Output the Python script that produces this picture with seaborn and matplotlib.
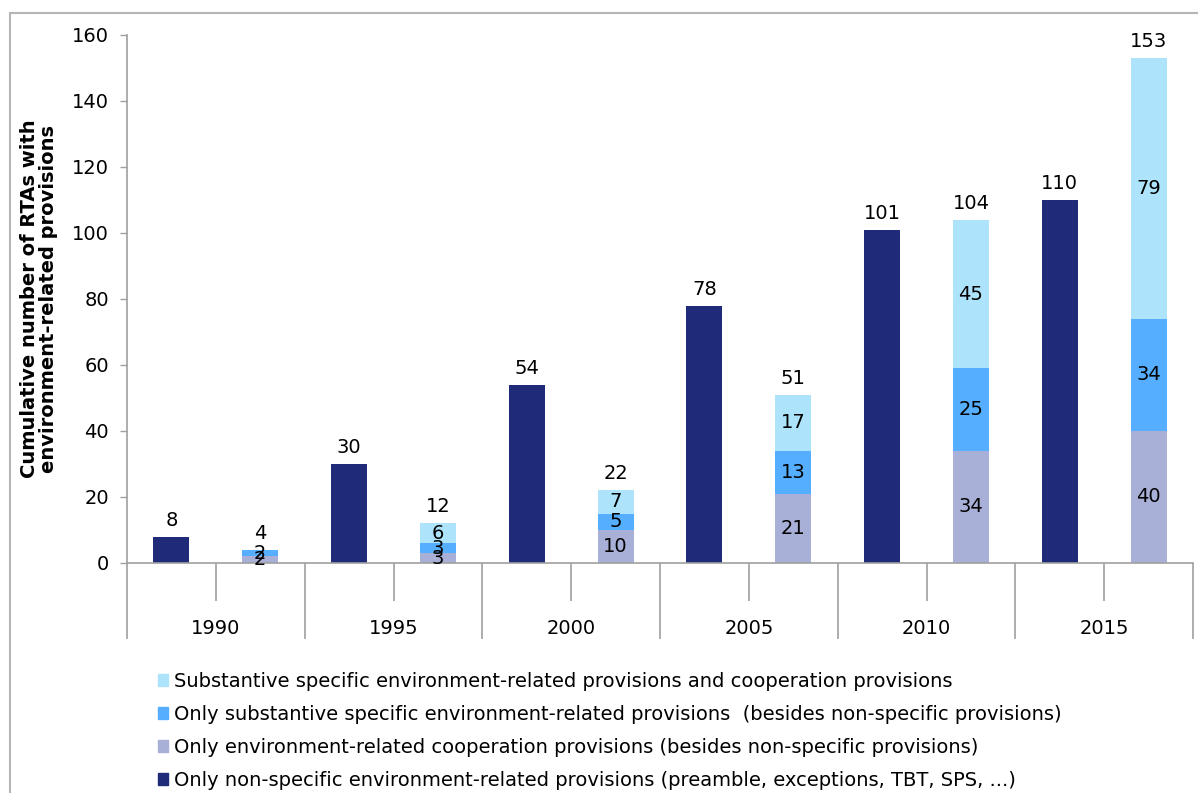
import matplotlib
matplotlib.use("Agg")
import matplotlib.pyplot as plt
import matplotlib.patches as mpatches
import seaborn as sns
import pandas as pd
import numpy as np

years = ["1990", "1995", "2000", "2005", "2010", "2015"]
non_specific = [8, 30, 54, 78, 101, 110]
cooperation_only = [2, 3, 10, 21, 34, 40]
substantive_only = [2, 3, 5, 13, 25, 34]
substantive_and_coop = [0, 6, 7, 17, 45, 79]

legend_labels = [
    "Substantive specific environment-related provisions and cooperation provisions",
    "Only substantive specific environment-related provisions  (besides non-specific provisions)",
    "Only environment-related cooperation provisions (besides non-specific provisions)",
    "Only non-specific environment-related provisions (preamble, exceptions, TBT, SPS, ...)",
]

c_dark = "#1F2A78"
c_lav = "#A9B0D8"
c_mid = "#55AEFF"
c_light = "#ADE3FB"

sns.set_theme(style="white")
plt.rcParams["font.family"] = ["DejaVu Sans"]
plt.rcParams["text.color"] = "black"
plt.rcParams["axes.labelcolor"] = "black"
plt.rcParams["xtick.color"] = "black"
plt.rcParams["ytick.color"] = "black"

FS = 14

slots = []
for y in years:
    slots += [y + "a", y + "b"]

rows = []
for i, y in enumerate(years):
    rows.append(dict(slot=y + "a", kind="dark", top=non_specific[i]))
    c1 = cooperation_only[i]
    c2 = c1 + substantive_only[i]
    c3 = c2 + substantive_and_coop[i]
    rows.append(dict(slot=y + "b", kind="light", top=c3))
    rows.append(dict(slot=y + "b", kind="mid", top=c2))
    rows.append(dict(slot=y + "b", kind="lav", top=c1))
df = pd.DataFrame(rows)

fig = plt.figure(figsize=(11.98, 7.93), dpi=100)
ax = fig.add_axes([127 / 1198, 230 / 793, (1193 - 127) / 1198, 528 / 793])

W = 0.405
for kind, col in [("dark", c_dark), ("light", c_light), ("mid", c_mid), ("lav", c_lav)]:
    sub = df[df.kind == kind]
    sns.barplot(data=sub, x="slot", y="top", order=slots, color=col, width=W,
                ax=ax, saturation=1, linewidth=0, errorbar=None)

ax.set_xlim(-0.5, 11.5)
ax.set_ylim(0, 160)
ax.set_yticks(np.arange(0, 161, 20))
ax.tick_params(axis="y", labelsize=FS, length=5, width=1, color="#A0A0A0",
               labelcolor="black", direction="out", pad=8, left=True)
for s in ["top", "right"]:
    ax.spines[s].set_visible(False)
for s in ["left", "bottom"]:
    ax.spines[s].set_color("#A0A0A0")
    ax.spines[s].set_linewidth(1.2)

# group ticks
ax.set_xticks([2 * i + 0.5 for i in range(6)])
ax.set_xticklabels(years, fontsize=FS)
ax.tick_params(axis="x", length=27, width=1.2, color="#A0A0A0", labelcolor="black",
               pad=13, bottom=True)
ax.set_xticks([2 * i - 0.5 for i in range(7)], minor=True)
ax.tick_params(axis="x", which="minor", length=55, width=1.2, color="#A0A0A0", bottom=True)
ax.set_xlabel("")
ax.set_ylabel("Cumulative number of RTAs with\nenvironment-related provisions",
              fontsize=FS, fontweight="bold", labelpad=10, linespacing=1.0)

# labels
for i, y in enumerate(years):
    xa = 2 * i
    xb = 2 * i + 1
    ax.annotate(str(non_specific[i]), (xa, non_specific[i]), xytext=(0, 5),
                textcoords="offset points", ha="center", va="bottom", fontsize=FS)
    c1 = cooperation_only[i]
    c2 = c1 + substantive_only[i]
    c3 = c2 + substantive_and_coop[i]
    ax.annotate(str(c3), (xb, c3), xytext=(0, 5), textcoords="offset points",
                ha="center", va="bottom", fontsize=FS)
    segs = [(0, c1, cooperation_only[i]), (c1, c2, substantive_only[i]),
            (c2, c3, substantive_and_coop[i])]
    for lo, hi, v in segs:
        if v > 0:
            ax.text(xb, (lo + hi) / 2, str(v), ha="center", va="center", fontsize=FS)

handles = [mpatches.Patch(color=c) for c in [c_light, c_mid, c_lav, c_dark]]
leg = fig.legend(handles, legend_labels, loc="upper left",
                 bbox_to_anchor=(150 / 1198, 1 - 664 / 793), frameon=False,
                 fontsize=FS, handlelength=0.55, handleheight=0.55, handletextpad=0.3,
                 labelspacing=0.72, borderaxespad=0)

# outer frame
fig.add_artist(mpatches.Rectangle((10 / 1198, -0.1), 1.2, 1 - 13 / 793 + 0.1,
                                  transform=fig.transFigure, fill=False,
                                  edgecolor="#B5B5B5", linewidth=1.5))

fig.savefig("out.png", dpi=100)
